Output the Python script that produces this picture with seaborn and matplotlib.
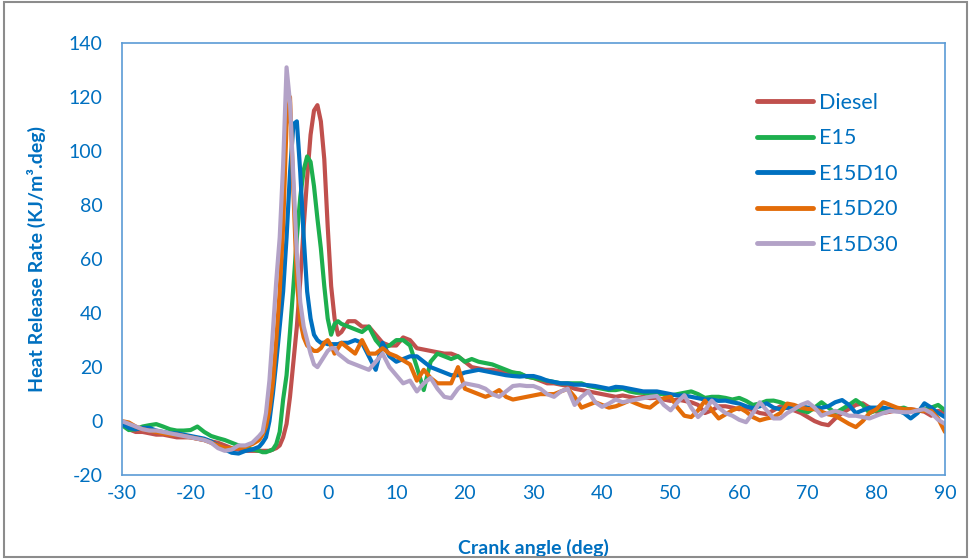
import numpy as np
import pandas as pd
import matplotlib
matplotlib.use("Agg")
import matplotlib.pyplot as plt
import seaborn as sns
from matplotlib.patches import Rectangle

# ---- data ----
# crank angle sample grid (deg)
angle = np.concatenate([np.arange(-30, -10, 1.0), np.arange(-10, 2.5, 0.5), np.arange(3, 91, 1.0)])

fuels = ["Diesel", "E15", "E15D10", "E15D20", "E15D30"]

diesel = [
    -1, -3, -4, -4, -4.5, -5, -5, -5.5, -6, -6, -6, -6.5, -7, -7.5, -8, -9, -10, -10.5, -11, -11,
    -11, -11, -11, -11, -10.5, -10, -9, -6, -1, 9, 22, 35, 52, 72, 90, 106, 115, 117, 111, 97, 72, 50, 38, 32, 33,
    37, 37, 35, 35, 32, 29, 28, 28, 31, 30,
    27, 26.5, 26, 25.5, 25, 25, 24, 22, 20, 19.5,
    19, 19, 18.5, 18, 18, 17.5, 16.5, 16, 15, 14,
    14, 13.5, 13, 12, 11.5, 11, 10.5, 10, 9.5, 9,
    9.5, 9, 8.5, 9, 8.5, 8.7, 8, 7.5, 8, 7.5,
    7, 6, 3, 4, 5.5, 5.5, 5, 4.4, 5, 4,
    3, 2.6, 4, 5.5, 5, 4, 3, 1.5, 0, -1,
    -1.5, 1, 3, 4.5, 6, 6.6, 5, 3.5, 3, 3.5,
    4, 4.2, 4.4, 4, 3.5, 2, 3.8, 3,
]
e15 = [
    -1.5, -3.3, -3, -2, -1.5, -1.1, -2, -3, -3.5, -3.5, -3.3, -2, -4, -5.5, -6.3, -7, -8, -9, -10, -10.5,
    -11, -11.5, -11.5, -11, -10.5, -8.5, -4, 8, 17, 33, 50, 68, 83, 93, 98, 96, 87, 75, 64, 50, 38, 32, 36, 37, 36,
    35, 34, 33, 35, 30, 27, 28, 30, 30, 28,
    20, 11.5, 22, 25, 24, 23, 24, 22, 23, 22,
    21.5, 21, 20, 19, 18, 17.7, 16.5, 16, 15.5, 15,
    14.5, 14, 14, 14, 14, 13, 12.5, 12, 11.5, 11.5,
    12, 11, 10.5, 10.5, 10, 10.2, 10, 9.5, 10, 10.5,
    11, 10, 8.6, 9, 9, 8.6, 8, 8.6, 7.5, 6,
    6.5, 7.5, 7.6, 7, 6, 5, 4, 3.3, 5, 7,
    5, 3, 4.5, 6, 7.8, 6, 3, 4, 4.5, 4,
    4.5, 5, 4, 3.5, 4.5, 5, 6, 4,
]
e15d10 = [
    -1, -2.5, -3, -2.5, -2.5, -3.5, -4, -4.5, -4.5, -5, -5.5, -6, -6.5, -7.5, -9, -10.5, -11.7, -12, -11, -10.5,
    -9.5, -8, -6, 0, 10, 22, 35, 48, 68, 92, 110, 111, 92, 68, 48, 38, 32, 30, 29, 29, 28.5, 28.5, 28.5, 28.5, 29,
    29, 30, 29, 24, 19, 29, 24, 22, 23, 24,
    24, 22, 20, 19, 18, 17, 17, 18, 18.5, 19,
    18.5, 18, 17.5, 17, 16.7, 16.5, 16.7, 16.7, 16, 15,
    14.5, 14, 14, 13.5, 13.5, 13.3, 13, 12.5, 12, 12.7,
    12.5, 12, 11.5, 11, 11, 11, 10.5, 10, 9.5, 9.5,
    9, 8.5, 8, 8, 7.5, 7.6, 7, 6.5, 5.5, 4.8,
    5.5, 6.6, 5, 4.4, 5, 5.5, 5.5, 5, 5, 4.9,
    5.5, 7, 7.8, 6, 3, 4, 5, 5, 5, 4.5,
    4, 3, 1, 3, 6.6, 5, 3, 1.5,
]
e15d20 = [
    0, -0.5, -2, -3, -3.5, -4, -4.5, -5, -5, -5.5, -6, -6.5, -7, -8, -9, -10, -10, -10, -9.5, -8.5,
    -7, -5, -2, 4, 14, 30, 48, 72, 110, 120, 85, 52, 37, 31, 28, 27, 26, 26, 27, 29, 30, 28, 25, 27, 29,
    27, 25, 30, 25, 25, 27, 25, 24, 22.5, 21,
    15, 19, 16, 14, 14, 14, 20, 12, 11, 10,
    9, 10, 11.5, 9, 8, 8.5, 9, 9.5, 10, 10,
    10, 11, 12, 9, 5, 6, 7, 6, 5, 5.5,
    6.5, 7.6, 6.5, 5.5, 5, 7, 8.5, 9, 5, 2,
    1.5, 4, 7.6, 4, 1, 2.5, 4, 5, 3.5, 1.5,
    0.3, 1, 1.5, 3, 6.5, 6, 5, 4.5, 4.4, 3.5,
    2.5, 2, 0.5, -1, -2.2, 0, 3, 4.4, 7, 6,
    5, 4.4, 4.4, 4, 3.8, 3.8, 1, -4,
]
e15d30 = [
    0, -1, -2, -3, -3.5, -3.5, -4, -4.5, -5, -5.5, -6, -6.5, -7, -8, -10, -11, -10.5, -9, -9, -8,
    -5.5, -4, 3, 15, 33, 52, 68, 95, 131, 118, 90, 62, 44, 35, 30, 25, 21, 20, 22, 24, 26, 27, 27, 25, 24,
    22, 21, 20, 19, 22, 25, 20, 17, 14, 15,
    11, 14, 16, 12, 9, 8.5, 12, 14, 13.5, 13,
    12, 10, 9, 11, 13, 13.3, 13, 13, 12, 10,
    9, 11, 12, 6, 9, 11, 7, 5.3, 6.5, 8,
    7, 7.5, 8, 8.5, 9, 9.3, 6, 4, 7, 9.6,
    5, 1.5, 4, 7.6, 5, 3, 2, 0.5, -0.4, 3,
    7, 4, 1, 1, 3, 4.4, 6, 7, 5, 2,
    3, 3.8, 3, 2, 2, 1.5, 1, 2, 3, 3.8,
    3.5, 3.3, 3.3, 4, 4.4, 3, 0.5, -1,
]

x_ticks = [-30, -20, -10, 0, 10, 20, 30, 40, 50, 60, 70, 80, 90]
y_ticks = [-20, 0, 20, 40, 60, 80, 100, 120, 140]

series = [diesel, e15, e15d10, e15d20, e15d30]
for s in series:
    assert len(s) == len(angle), (len(s), len(angle))

df = pd.concat(
    [pd.DataFrame({"angle": angle, "hrr": s, "fuel": f}) for f, s in zip(fuels, series)],
    ignore_index=True,
)

# ---- style ----
sns.set_style("white")
plt.rcParams["font.family"] = ["Lato", "DejaVu Sans"]

palette = {
    "Diesel": "#C0504D",
    "E15": "#1DAF4E",
    "E15D10": "#0070C0",
    "E15D20": "#E36C09",
    "E15D30": "#B3A2C7",
}
txt_blue = "#0070C0"
axis_blue = "#5B9BD5"

fig = plt.figure(figsize=(9.71, 5.59), dpi=100)
ax = fig.add_axes([0.1256, 0.150, 0.8476, 0.773])

sns.lineplot(data=df, x="angle", y="hrr", hue="fuel", hue_order=fuels,
             palette=palette, estimator=None, sort=False, linewidth=3.0, ax=ax)

ax.set_xlim(-30, 90)
ax.set_ylim(-20, 140)
ax.set_xticks(x_ticks)
ax.set_yticks(y_ticks)
ax.set_xticklabels([str(t) for t in x_ticks])
ax.set_yticklabels([str(t) for t in y_ticks])

for sp in ax.spines.values():
    sp.set_visible(True)
    sp.set_color(axis_blue)
    sp.set_linewidth(1.2)

ax.tick_params(axis="both", which="major", direction="out", length=6, width=1.2,
               color=axis_blue, labelcolor=txt_blue, labelsize=14)
ax.tick_params(axis="y", pad=8)
ax.tick_params(axis="x", pad=1)

ax.set_xlabel("Crank angle (deg)", fontsize=14, fontweight="bold", color=txt_blue, labelpad=27)
ax.set_ylabel("Heat Release Rate (KJ/m³.deg)", fontsize=14, fontweight="bold", color=txt_blue, labelpad=16)

leg = ax.legend(loc="upper left", bbox_to_anchor=(0.761, 0.905), frameon=False,
                fontsize=15.5, handlelength=2.6, handletextpad=0.3, labelspacing=0.72,
                borderaxespad=0.0)
for t in leg.get_texts():
    t.set_color(txt_blue)
for ln in leg.get_lines():
    ln.set_linewidth(3.5)

# figure border
fig.patches.append(Rectangle((0.004, 0.004), 0.992, 0.992, transform=fig.transFigure,
                             fill=False, edgecolor="#8C8C8C", linewidth=1.5))

fig.savefig("out.png", dpi=100)
